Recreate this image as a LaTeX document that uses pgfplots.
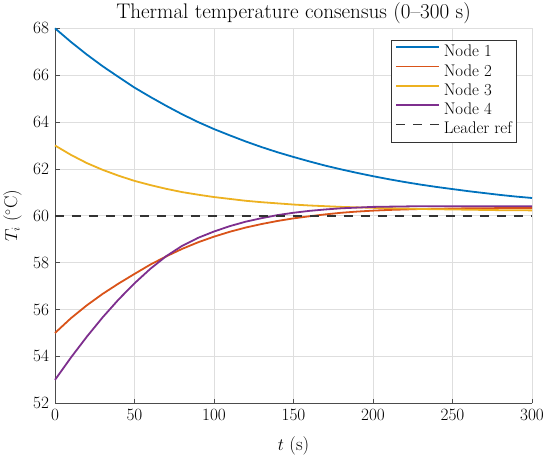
\documentclass[border=0pt]{standalone}
\usepackage{pgfplots}
\pgfplotsset{compat=1.18}
\definecolor{c1}{rgb}{0,0.447,0.741}
\definecolor{c2}{rgb}{0.85,0.325,0.098}
\definecolor{c3}{rgb}{0.929,0.694,0.125}
\definecolor{c4}{rgb}{0.494,0.184,0.556}
\begin{document}
\begin{tikzpicture}
\path[use as bounding box] (0,0) rectangle (550bp,459bp);
\begin{axis}[
  at={(55bp,55.7bp)}, anchor=south west,
  width=477bp, height=375bp, scale only axis,
  xmin=0, xmax=300, ymin=52, ymax=68,
  xtick={0,50,...,300}, ytick={52,54,...,68},
  axis x line*=bottom, axis y line*=left,
  axis line style={black!70, line width=0.7bp},
  tick style={black!70, line width=0.7bp},
  tick align=inside, major tick length=4.5bp,
  grid=major, major grid style={black!13, line width=0.6bp},
  ticklabel style={font=\fontsize{17.6}{20}\selectfont},
  xticklabel style={yshift=-3bp},
  yticklabel style={xshift=-2.5bp},
  clip=false,
  title={Thermal temperature consensus (0\textendash300 s)},
  title style={at={([yshift=9.3bp]axis description cs:0.5,1)}, anchor=base, yshift=-6pt, font=\fontsize{21.2}{24}\selectfont},
  xlabel={$t$ (s)},
  xlabel style={at={([yshift=-47bp]axis description cs:0.5,0)}, anchor=base, font=\fontsize{18.6}{21}\selectfont},
  ylabel={$T_i$ ($^\circ$C)},
  ylabel style={at={([xshift=-38bp]axis description cs:0,0.5)}, anchor=base, rotate=0, font=\fontsize{18.6}{21}\selectfont},
  every axis plot/.append style={line width=1.8bp},
  legend cell align=left,
  legend image code/.code={\draw[#1] (0bp,5.5bp) -- (43bp,5.5bp);},
  legend style={at={(1,1)}, anchor=north east, xshift=-15.5bp, yshift=-11.7bp,
    draw=black!80, line width=0.5bp, fill=white,
    inner xsep=4.3bp, inner ysep=4.5bp,
    font=\fontsize{16.9}{17}\selectfont,
    nodes={inner sep=0bp, text height=12bp, text depth=4bp},
    row sep=3.3bp, column sep=3.4bp},
]
\addplot[c1] coordinates {
(0,68.00) (10,67.42) (20,66.88) (30,66.38) (40,65.92) (50,65.47) (60,65.07) (70,64.69) (80,64.33) (90,64.00)
(100,63.70) (110,63.43) (120,63.17) (130,62.93) (140,62.71) (150,62.51) (160,62.32) (170,62.14) (180,61.98) (190,61.83)
(200,61.69) (210,61.56) (220,61.44) (230,61.33) (240,61.23) (250,61.14) (260,61.05) (270,60.97) (280,60.89) (290,60.82) (300,60.76)};
\addlegendentry{Node 1}
\addplot[c2] coordinates {
(0,55.00) (10,55.63) (20,56.18) (30,56.67) (40,57.11) (50,57.52) (60,57.92) (70,58.27) (80,58.59) (90,58.87)
(100,59.11) (110,59.32) (120,59.50) (130,59.65) (140,59.78) (150,59.89) (160,59.98) (170,60.06) (180,60.13) (190,60.18)
(200,60.22) (210,60.25) (220,60.27) (230,60.29) (240,60.30) (250,60.31) (260,60.32) (270,60.32) (280,60.33) (290,60.33) (300,60.33)};
\addlegendentry{Node 2}
\addplot[c3] coordinates {
(0,63.00) (10,62.60) (20,62.25) (30,61.96) (40,61.71) (50,61.49) (60,61.31) (70,61.15) (80,61.01) (90,60.90)
(100,60.80) (110,60.72) (120,60.64) (130,60.58) (140,60.53) (150,60.48) (160,60.44) (170,60.41) (180,60.38) (190,60.36)
(200,60.34) (210,60.32) (220,60.31) (230,60.29) (240,60.28) (250,60.27) (260,60.26) (270,60.25) (280,60.24) (290,60.24) (300,60.23)};
\addlegendentry{Node 3}
\addplot[c4] coordinates {
(0,53.00) (10,53.95) (20,54.84) (30,55.67) (40,56.43) (50,57.12) (60,57.74) (70,58.28) (80,58.72) (90,59.06)
(100,59.33) (110,59.56) (120,59.75) (130,59.90) (140,60.03) (150,60.13) (160,60.21) (170,60.27) (180,60.32) (190,60.35)
(200,60.38) (210,60.39) (220,60.40) (230,60.41) (240,60.41) (250,60.41) (260,60.41) (270,60.41) (280,60.41) (290,60.41) (300,60.41)};
\addlegendentry{Node 4}
\addplot[black!80, dash pattern=on 9bp off 8bp] coordinates {(0,60) (300,60)};
\addlegendentry{Leader ref}
\end{axis}
\end{tikzpicture}
\end{document}
